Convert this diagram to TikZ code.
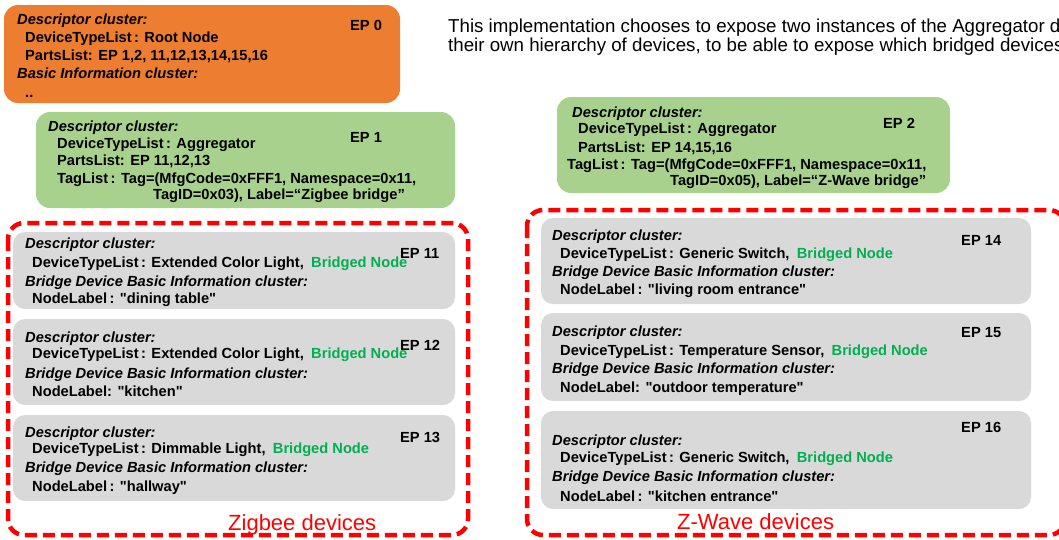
\documentclass[tikz,border=0pt]{standalone}
\usepackage{fontspec}
\setmainfont{Liberation Sans}[Ligatures=TeXOff]
\definecolor{orangebg}{HTML}{ED7D31}
\definecolor{greenbg}{HTML}{A9D18E}
\definecolor{graybg}{HTML}{D9D9D9}
\definecolor{bnode}{HTML}{00B050}
\definecolor{zred}{HTML}{FF0000}
\newcommand{\bn}{\textcolor{bnode}{Bridged Node}}
\begin{document}
\begin{tikzpicture}[x=1pt,y=-1pt,
  txt/.style={inner sep=0pt, anchor=base west, font=\fontsize{14.67}{17.6}\selectfont\bfseries},
  hdr/.style={txt, font=\fontsize{14.67}{17.6}\selectfont\bfseries\itshape},
  intro/.style={inner sep=0pt, anchor=base west, font=\fontsize{18.7}{20}\selectfont},
  devlabel/.style={inner sep=0pt, anchor=base west, text=zred, font=\fontsize{22}{26}\selectfont},
  obox/.style={fill=orangebg, rounded corners=14pt},
  gnbox/.style={fill=greenbg, rounded corners=14pt},
  gybox/.style={fill=graybg, rounded corners=12pt},
  frame/.style={draw=zred, line width=4.5pt, dash pattern=on 12pt off 6pt, rounded corners=16pt}
]
\useasboundingbox (0,0) rectangle (1059,539);
\clip (0,0) rectangle (1059,539);

% EP 0
\fill[obox] (4,5) rectangle (400,103);
\node[hdr] (e0a) at (17,24) {Descriptor cluster:};
\node[txt] (e0b) at (25,42) {DeviceTypeList\,: Root Node};
\node[txt] (e0c) at (25,60) {PartsList: EP 1,2, 11,12,13,14,15,16};
\node[hdr] (e0d) at (17,78) {Basic Information cluster:};
\node[txt] (e0e) at (25,97) {..};
\node[txt] (e0ep) at (350,30) {EP 0};

% intro text
\node[intro] (introa) at (448,32) {This implementation chooses to expose two instances of the Aggregator device type, each with};
\node[intro] (introb) at (448,51) {their own hierarchy of devices, to be able to expose which bridged devices are on which network.};

% EP 1
\fill[gnbox] (36,112) rectangle (455,208);
\node[hdr] (e1a) at (48,131) {Descriptor cluster:};
\node[txt] (e1b) at (57,148) {DeviceTypeList\,: Aggregator};
\node[txt] (e1c) at (57,165) {PartsList: EP 11,12,13};
\node[txt] (e1d) at (57,183) {TagList\,: Tag=(MfgCode=0xFFF1, Namespace=0x11,};
\node[txt] (e1e) at (153,199) {TagID=0x03), Label=“Zigbee bridge”};
\node[txt] (e1ep) at (350,142) {EP 1};

% EP 2
\fill[gnbox] (557,97) rectangle (950,193);
\node[hdr] (e2a) at (572,117) {Descriptor cluster:};
\node[txt] (e2b) at (578,133) {DeviceTypeList\,: Aggregator};
\node[txt] (e2c) at (578,152) {PartsList: EP 14,15,16};
\node[txt] (e2d) at (567,169) {TagList\,: Tag=(MfgCode=0xFFF1, Namespace=0x11,};
\node[txt] (e2e) at (670,185) {TagID=0x05), Label=“Z-Wave bridge”};
\node[txt] (e2ep) at (883,128) {EP 2};

% frames
\draw[frame] (8,223) rectangle (468,535);
\draw[frame] (527,210) rectangle (1065,535);

% Zigbee devices
\fill[gybox] (13,232) rectangle (455,309);
\node[hdr] (e11a) at (25,248) {Descriptor cluster:};
\node[txt] (e11b) at (32,267) {DeviceTypeList\,: Extended Color Light,\enspace\bn};
\node[hdr] (e11c) at (25,286) {Bridge Device Basic Information cluster:};
\node[txt] (e11d) at (32,303) {NodeLabel\,: "dining table"};
\node[txt] (e11ep) at (400,258) {EP 11};

\fill[gybox] (13,319) rectangle (455,405);
\node[hdr] (e12a) at (25,342) {Descriptor cluster:};
\node[txt] (e12b) at (32,358) {DeviceTypeList\,: Extended Color Light,\enspace\bn};
\node[hdr] (e12c) at (25,378) {Bridge Device Basic Information cluster:};
\node[txt] (e12d) at (32,396) {NodeLabel: "kitchen"};
\node[txt] (e12ep) at (400,350) {EP 12};

\fill[gybox] (13,415) rectangle (455,501);
\node[hdr] (e13a) at (25,437) {Descriptor cluster:};
\node[txt] (e13b) at (32,453) {DeviceTypeList\,: Dimmable Light,\enspace\bn};
\node[hdr] (e13c) at (25,472) {Bridge Device Basic Information cluster:};
\node[txt] (e13d) at (32,491) {NodeLabel\,: "hallway"};
\node[txt] (e13ep) at (400,442) {EP 13};

% Z-Wave devices
\fill[gybox] (541,218) rectangle (1031,304);
\node[hdr] (e14a) at (552,240) {Descriptor cluster:};
\node[txt] (e14b) at (560,258) {DeviceTypeList\,: Generic Switch,\enspace\bn};
\node[hdr] (e14c) at (552,276) {Bridge Device Basic Information cluster:};
\node[txt] (e14d) at (560,294) {NodeLabel\,: "living room entrance"};
\node[txt] (e14ep) at (961,245) {EP 14};

\fill[gybox] (541,313) rectangle (1031,401);
\node[hdr] (e15a) at (552,336) {Descriptor cluster:};
\node[txt] (e15b) at (560,355) {DeviceTypeList\,: Temperature Sensor,\enspace\bn};
\node[hdr] (e15c) at (552,373) {Bridge Device Basic Information cluster:};
\node[txt] (e15d) at (560,392) {NodeLabel: "outdoor temperature"};
\node[txt] (e15ep) at (961,337) {EP 15};

\fill[gybox] (541,411) rectangle (1031,509);
\node[hdr] (e16a) at (552,445) {Descriptor cluster:};
\node[txt] (e16b) at (560,462) {DeviceTypeList\,: Generic Switch,\enspace\bn};
\node[hdr] (e16c) at (552,481) {Bridge Device Basic Information cluster:};
\node[txt] (e16d) at (560,501) {NodeLabel\,: "kitchen entrance"};
\node[txt] (e16ep) at (961,432) {EP 16};

% frame labels
\node[devlabel] (zlab) at (228,530) {Zigbee devices};
\node[devlabel] (wlab) at (677,529) {Z-Wave devices};
\end{tikzpicture}
\end{document}
